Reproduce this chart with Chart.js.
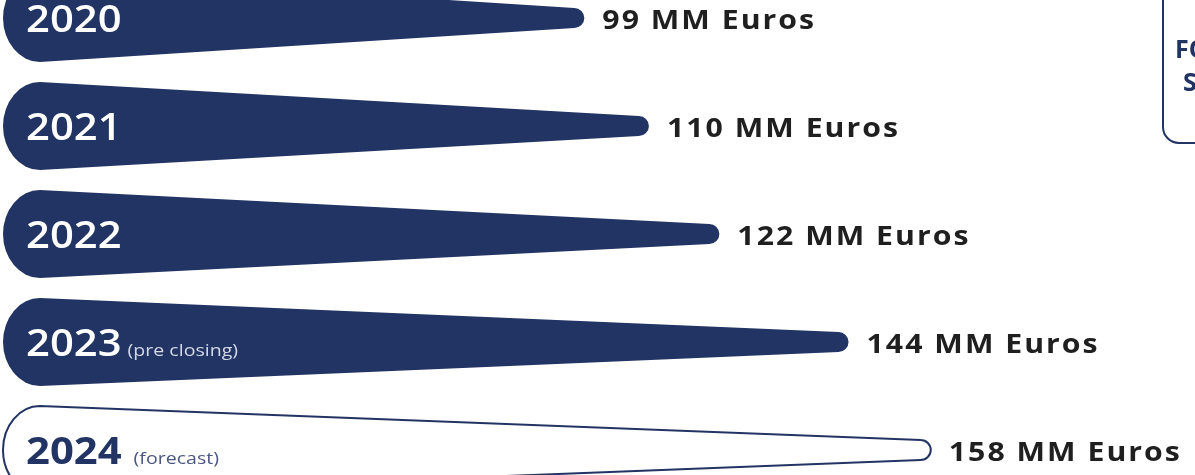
<!DOCTYPE html>
<html>
<head>
<meta charset="utf-8">
<script src="https://cdn.jsdelivr.net/npm/chart.js@4"></script>
<style>
  html, body { margin: 0; padding: 0; background: #fff; }
  #wrap { width: 1195px; height: 475px; position: relative; overflow: hidden; }
</style>
</head>
<body>
<div id="wrap"><canvas id="c" width="1195" height="475"></canvas></div>
<script>
const YEARS = ['2020', '2021', '2022', '2023', '2024'];
const YEAR_NOTES = ['', '', '', '(pre closing)', '(forecast)'];
const REVENUE = [99, 110, 122, 144, 158];
const IS_FORECAST = [false, false, false, false, true];
const UNIT = 'MM Euros';
const SIDE_BOX_LINES = ['FO', 'S'];

const NAVY = '#223463';
const FONT = "'Open Sans', 'Noto Sans', sans-serif";

// text drawn a little wider, closer to the geometric face of the original
function wideText(ctx, text, x, y, sx) {
  ctx.save();
  ctx.translate(x, y);
  ctx.scale(sx, 1);
  ctx.fillText(text, 0, 0);
  const w = ctx.measureText(text).width * sx;
  ctx.restore();
  return w;
}

// draws the tapered "drop" bars on top of the (invisible) library bars
const taperPlugin = {
  id: 'taper',
  afterDatasetsDraw(chart) {
    const ctx = chart.ctx;
    const meta = chart.getDatasetMeta(0);

    meta.data.forEach((bar, i) => {
      const { x, y, base, height } = bar.getProps(['x', 'y', 'base', 'height'], true);
      const half = height / 2;
      const rx = height * 0.42;
      const r = 10;

      ctx.save();
      ctx.beginPath();
      ctx.moveTo(base + rx, y - half);
      ctx.lineTo(x - r, y - r);
      ctx.arc(x - r, y, r, -Math.PI / 2, Math.PI / 2);
      ctx.lineTo(base + rx, y + half);
      ctx.ellipse(base + rx, y, rx, half, 0, Math.PI / 2, Math.PI * 1.5);
      ctx.closePath();
      if (IS_FORECAST[i]) {
        ctx.fillStyle = '#fff';
        ctx.fill();
        ctx.lineWidth = 2;
        ctx.strokeStyle = NAVY;
        ctx.stroke();
      } else {
        ctx.fillStyle = NAVY;
        ctx.fill();
      }

      // year label inside the bar
      ctx.textBaseline = 'alphabetic';
      ctx.textAlign = 'left';
      ctx.fillStyle = IS_FORECAST[i] ? NAVY : '#fff';
      ctx.font = (IS_FORECAST[i] ? '700 ' : '600 ') + '38px ' + FONT;
      const w = wideText(ctx, YEARS[i], base + 23, y + 14, 1.1);
      if (YEAR_NOTES[i]) {
        ctx.font = '400 17px ' + FONT;
        ctx.fillStyle = IS_FORECAST[i] ? '#4a5783' : '#d3d8e6';
        wideText(ctx, YEAR_NOTES[i], base + 23 + w + (IS_FORECAST[i] ? 12 : 6), y + 14, 1.15);
      }

      // value label after the tip
      ctx.font = '700 27px ' + FONT;
      ctx.letterSpacing = '1.8px';
      ctx.fillStyle = '#1f1f1f';
      wideText(ctx, REVENUE[i] + ' ' + UNIT, x + 18, y + 11, 1.12);
      ctx.letterSpacing = '0px';
      ctx.restore();
    });

    // partial side box on the right edge
    ctx.save();
    ctx.beginPath();
    ctx.roundRect(1163, -20, 80, 163, 16);
    ctx.lineWidth = 2;
    ctx.strokeStyle = NAVY;
    ctx.stroke();
    ctx.fillStyle = NAVY;
    ctx.font = '700 25px ' + FONT;
    ctx.fillText(SIDE_BOX_LINES[0], 1175, 58);
    ctx.fillText(SIDE_BOX_LINES[1], 1183, 91);
    ctx.restore();
  }
};

new Chart(document.getElementById('c'), {
  type: 'bar',
  data: {
    labels: YEARS,
    datasets: [{
      data: REVENUE,
      backgroundColor: 'rgba(0,0,0,0)',
      borderWidth: 0,
      barThickness: 88
    }]
  },
  options: {
    indexAxis: 'y',
    responsive: false,
    animation: false,
    layout: { padding: { left: 3, right: 0, top: 18, bottom: 25 } },
    plugins: {
      legend: { display: false },
      tooltip: { enabled: false }
    },
    scales: {
      x: { display: false, min: 0, max: 203 },
      y: { display: false, offset: false }
    }
  },
  plugins: [taperPlugin]
});
</script>
</body>
</html>
